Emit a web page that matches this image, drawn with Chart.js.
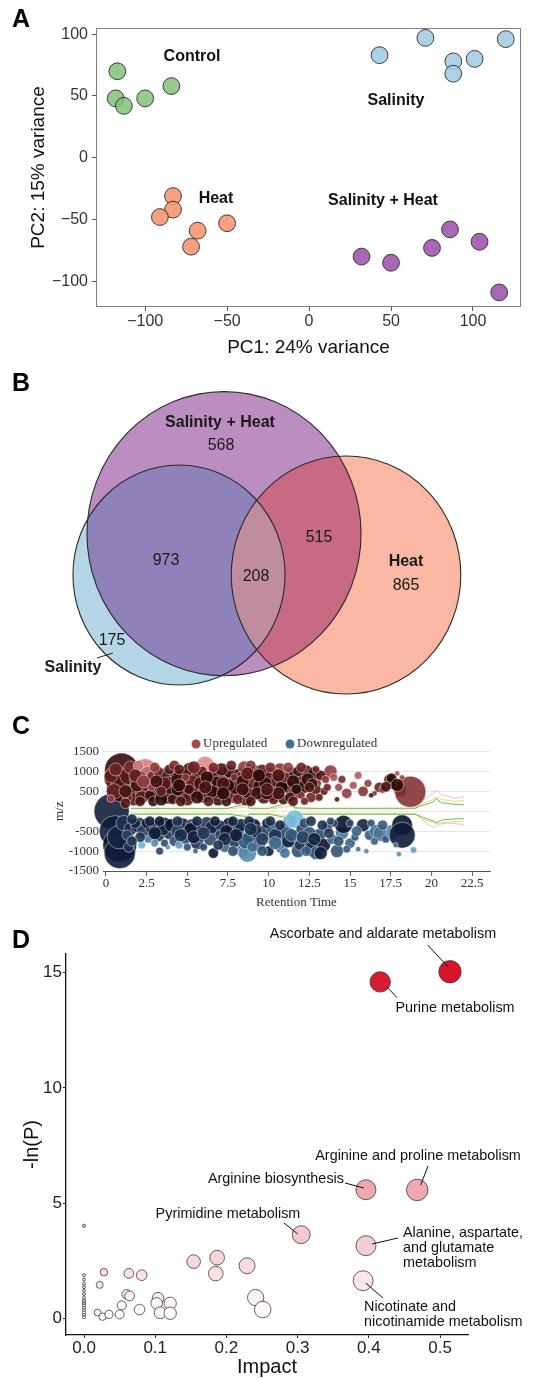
<!DOCTYPE html>
<html>
<head>
<meta charset="utf-8">
<script src="https://cdn.jsdelivr.net/npm/chart.js@4.4.1/dist/chart.umd.min.js"></script>
<style>
 html,body{margin:0;padding:0;background:#ffffff;}
 body{position:relative;width:542px;height:1379px;overflow:hidden;}
 canvas{position:absolute;left:0;}
 .letter{position:absolute;left:12px;font-family:'Liberation Sans',Arial,sans-serif;font-weight:bold;font-size:25px;color:#000;z-index:5;line-height:normal;}
</style>
</head>
<body>
<canvas id="chartA" width="542" height="370" style="top:0px"></canvas>
<canvas id="chartB" width="542" height="340" style="top:370px"></canvas>
<canvas id="chartC" width="542" height="200" style="top:710px"></canvas>
<canvas id="chartD" width="542" height="469" style="top:910px"></canvas>
<div class="letter" style="top:4px">A</div>
<div class="letter" style="top:368px">B</div>
<div class="letter" style="top:711px">C</div>
<div class="letter" style="top:925px">D</div>
<script>
// ---------------- DATA ----------------
// Panel A: PCA scores
const controlPC1 = [-117, -118, -113, -100, -84];
const controlPC2 = [70, 48, 42, 48, 58];
const salinityPC1 = [43, 71, 88, 88, 101, 120];
const salinityPC2 = [83, 97, 78, 68, 80, 96];
const heatPC1 = [-83, -83, -91, -68, -72, -50];
const heatPC2 = [-31, -42, -48, -59, -72, -53];
const salHeatPC1 = [32, 50, 75, 86, 104, 116];
const salHeatPC2 = [-80, -85, -73, -58, -68, -109];
const pcaTicks = [-100, -50, 0, 50, 100];

// Panel B: Venn region counts
const vennSetNames = ['Salinity', 'Salinity + Heat', 'Heat'];
const vennRegionNames = ['Salinity only', 'Salinity & Salinity+Heat', 'All three', 'Salinity+Heat & Heat', 'Salinity+Heat only', 'Heat only'];
const vennRegionCounts = [175, 973, 208, 515, 568, 865];

// Panel C: cloud plot [retention time, m/z, bubble size, shade]
const upRegulated = [
[0.96,1035,13,0.10],[1.0,620,12,0.00],[0.6,850,9,0.15],[0.9,780,8,0.25],[0.3,880,5,0.35],[0.5,500,6,0.40],[1.6,450,6,0.10],[1.7,300,5,0.30],[0.3,320,3,0.60],[1.4,900,7,0.30],
[2.4,990,10,0.90],[2.6,900,7,0.80],[2.0,800,7,0.55],[2.6,700,6,0.50],[2.9,850,5,0.45],[2.4,560,8,0.40],[2.2,350,5,0.30],[3.0,450,6,0.20],[3.3,620,5,0.10],[3.5,850,7,0.05],
[3.8,380,6,0.00],[3.2,1000,4,0.50],[4.0,650,7,0.15],[4.3,950,5,0.35],[4.7,760,9,0.10],[4.8,450,7,0.00],[5.2,1000,7,0.20],[5.0,300,5,0.30],[5.5,600,8,0.05],[5.7,850,6,0.25],
[6.1,1150,7,0.95],[6.0,400,6,0.10],[6.4,700,7,0.30],[6.7,950,5,0.20],[6.9,300,5,0.15],[7.0,550,7,0.00],[7.3,800,6,0.40],[7.6,1000,5,0.10],[7.8,400,6,0.30],[8.0,650,7,0.05],
[8.3,900,6,0.00],[8.5,1100,5,0.60],[8.6,300,5,0.25],[8.8,500,6,0.10],[9.0,800,7,0.35],[9.2,1000,5,0.50],[9.5,600,6,0.00],[9.7,350,5,0.20],[10.0,900,6,0.15],[10.2,500,7,0.05],
[10.5,750,5,0.30],[10.7,1050,5,0.55],[10.9,300,4,0.20],[11.1,650,6,0.10],[11.4,950,5,0.00],[11.6,450,5,0.40],[11.9,800,5,0.25],[12.1,600,5,0.05],[12.3,1000,5,0.30],[12.6,350,4,0.45],
[12.8,950,5,0.10],[13.0,700,3,0.50],[13.4,500,3,0.30],[13.8,1000,5,0.60],[14.0,850,3,0.70],[14.3,600,3,0.65],[14.5,800,3,0.50],[14.8,450,4,0.60],[15.2,650,3,0.70],[15.5,900,3,0.75],
[15.8,500,4,0.55],[16.1,700,3,0.60],[16.5,450,2,0.50],[16.8,600,4,0.40],[17.0,550,3,0.60],[17.4,800,4,0.30],[17.6,650,3,0.20],[17.9,950,2,0.70],[18.1,520,5,0.10],[18.7,490,12,0.55],
[18.2,850,2,0.60],[14.2,300,2,0.20],[16.3,400,2,0.20],[17.55,827,4,0.05],[17.9,660,5,0.05],[17.2,616,4,0.15],
[1.9,650,5,0.20],[2.7,400,4,0.10],[3.6,700,5,0.30],[4.1,300,4,0.20],[4.4,550,5,0.00],[5.3,750,5,0.40],[5.9,1000,4,0.30],[6.5,500,5,0.10],[7.1,1050,5,0.20],[7.5,650,5,0.05],
[8.1,300,4,0.35],[8.2,850,4,0.40],[9.3,450,5,0.15],[9.8,700,5,0.05],[10.3,300,4,0.30],[10.8,600,5,0.00],[11.3,350,4,0.15],[11.8,1000,4,0.20],[12.4,800,5,0.10],[12.9,550,4,0.30],
[13.2,900,4,0.20],[3.9,1050,4,0.25],[5.1,550,4,0.15],[6.8,750,4,0.05],[9.6,1050,4,0.35],[11.0,850,4,0.45],[2.8,600,3,0.60],[4.9,850,3,0.55],[7.9,850,3,0.50],[10.4,1000,3,0.60],
[12.0,400,3,0.50],[1.3,350,4,0.45],[0.6,1050,5,0.40],
[1.2,200,4,0.30],[2.1,250,4,0.20],[2.9,250,4,0.10],[3.4,300,5,0.05],[4.6,250,4,0.20],[5.6,350,5,0.10],[6.3,250,4,0.30],[7.4,250,4,0.15],[8.9,250,4,0.20],[9.9,450,5,0.10],
[10.6,450,5,0.20],[11.5,250,4,0.30],[12.2,250,3,0.40],[12.7,700,4,0.15],[13.1,350,3,0.30],[1.5,1100,5,0.50],[2.0,1150,4,0.85],[3.0,1100,4,0.60],[4.2,1150,4,0.50],[5.4,1100,5,0.45],
[6.6,1100,4,0.50],[7.7,1150,4,0.40],[8.9,1150,4,0.55],[10.1,1100,4,0.50],[11.2,1100,4,0.60],[12.0,1100,4,0.45],[12.9,1050,3,0.50],[1.8,900,5,0.35],[3.1,750,5,0.20],[4.5,650,5,0.10],
[5.8,700,5,0.15],[6.2,850,5,0.05],[7.2,700,5,0.20],[8.4,750,5,0.10],[8.7,950,5,0.30],[9.4,900,5,0.05],[10.6,900,5,0.20],[11.5,750,5,0.10],[12.5,600,4,0.20],[11.7,550,4,0.05],
[9.9,550,5,0.25],[8.4,550,5,0.15],[7.2,450,5,0.05],[6.1,600,5,0.20],[4.5,1050,4,0.30],[3.4,500,4,0.35],[2.3,750,5,0.60],[1.2,500,5,0.20],[13.5,800,3,0.55],[13.6,600,3,0.40]
];
const downRegulated = [
[0.35,0,13.5,0.08],[0.55,-500,12,0.05],[0.85,-850,13,0.00],[0.85,-1050,12,0.05],[0.8,-650,9,0.10],[1.1,-300,6,0.20],[1.5,-450,5,0.15],[1.3,-600,4,0.30],
[2.0,-350,6,0.10],[2.3,-500,5,0.30],[2.6,-700,3,0.60],[2.9,-400,6,0.05],[3.2,-600,5,0.20],[3.3,-1000,3,0.30],[3.0,-800,3,0.70],[3.6,-350,6,0.00],[3.9,-550,5,0.20],[4.2,-750,4,0.40],[4.5,-850,3,0.80],[4.7,-400,7,0.05],
[5.0,-600,5,0.10],[5.3,-350,5,0.30],[5.6,-800,5,0.20],[5.9,-500,5,0.00],[6.2,-300,5,0.25],[6.4,-700,5,0.35],[6.6,-1050,4,0.00],[6.8,-450,5,0.10],[7.1,-600,5,0.30],[7.3,-900,4,0.50],
[7.6,-350,6,0.00],[7.9,-750,5,0.20],[8.1,-500,5,0.40],[8.4,-1000,5,0.60],[8.7,-1050,7,0.70],[8.9,-650,6,0.10],[9.1,-350,5,0.00],[9.4,-850,5,0.30],[9.7,-550,6,0.20],[10.0,-1000,4,0.05],
[10.2,-400,5,0.45],[10.5,-700,7,0.50],[10.8,-900,5,0.60],[11.0,-500,6,0.35],[11.3,-250,5,0.70],[11.6,-200,7,0.95],[11.6,-700,7,0.55],[11.8,-1000,5,0.40],[12.0,-450,4,0.30],[12.4,-800,5,0.20],
[12.7,-950,6,0.00],[12.9,-1050,5,0.50],[13.1,-600,5,0.35],[13.4,-850,5,0.00],[13.6,-400,4,0.30],[13.9,-700,4,0.50],[14.2,-1000,5,0.40],[14.5,-550,5,0.60],[14.6,-330,7,0.00],[15.0,-800,4,0.50],
[15.3,-650,3,0.40],[15.5,-950,2,0.60],[15.8,-350,5,0.10],[16.2,-600,4,0.45],[16.6,-500,5,0.55],[16.9,-560,6,0.60],[17.2,-700,3,0.40],[17.5,-450,3,0.30],[17.6,-550,5,0.70],[18.2,-350,8,0.00],
[18.2,-600,10,0.05],[18.0,-1075,2,0.70],[18.9,-970,2.5,0.80],[17.8,-850,2,0.60],[16.0,-1000,2,0.70],[14.0,-300,3,0.30],[12.2,-300,4,0.35],
[1.8,-300,4,0.10],[2.2,-850,3,0.90],[3.5,-450,5,0.10],[4.0,-350,5,0.00],[4.4,-500,5,0.30],[5.2,-450,5,0.00],[5.8,-650,4,0.35],[6.5,-400,5,0.10],[7.0,-350,4,0.20],[7.4,-500,5,0.05],
[8.3,-350,5,0.10],[8.6,-750,6,0.45],[9.2,-500,5,0.15],[9.9,-300,4,0.05],[10.4,-600,5,0.20],[11.2,-750,5,0.10],[12.5,-550,5,0.40],[13.3,-350,4,0.20],[6.0,-900,3,0.30],[9.0,-900,4,0.55],
[11.9,-850,4,0.20],[2.5,-300,4,0.05],[4.9,-700,4,0.40],[10.7,-350,4,0.15],[3.8,-900,2,0.70],[5.5,-1000,2,0.50],
[1.6,-200,4,0.15],[2.7,-250,4,0.10],[3.3,-250,4,0.05],[4.4,-250,4,0.20],[5.6,-250,4,0.10],[6.7,-250,4,0.05],[7.8,-250,4,0.15],[8.8,-250,4,0.10],[10.1,-250,4,0.20],[12.6,-250,4,0.20],
[13.8,-250,3,0.30],[15.0,-300,3,0.35],[16.3,-300,3,0.40],[2.1,-650,4,0.20],[3.0,-550,5,0.05],[4.6,-600,5,0.15],[5.4,-650,5,0.05],[6.0,-550,5,0.25],[7.3,-700,5,0.10],[8.0,-600,5,0.05],
[8.9,-450,5,0.20],[9.6,-700,5,0.30],[10.4,-800,5,0.55],[11.4,-600,5,0.45],[12.1,-650,5,0.30],[12.8,-700,5,0.10],[13.7,-550,4,0.25],[14.3,-750,4,0.40],[15.4,-500,4,0.50],[16.5,-750,3,0.50],
[17.0,-350,4,0.45],[3.6,-800,3,0.35],[5.0,-900,3,0.40],[6.9,-850,4,0.20],[7.8,-1000,4,0.35],[9.6,-1000,4,0.40],[11.0,-1050,4,0.60],[12.3,-1000,4,0.50],[13.2,-1050,5,0.05],[14.8,-950,3,0.45],
[1.4,-900,4,0.20],[1.6,-750,4,0.25]
];
const rtTrace = [1.5, 3, 4.5, 6, 7.5, 8.7, 8.8, 10, 11.5, 11.6, 13, 14.5, 16, 17.5, 19, 19.4, 19.8, 20.1, 20.3, 20.6, 21, 21.4, 21.8, 22];
const upGreenTrace = [75, 72, 74, 72, 73, 190, 76, 73, 240, 85, 72, 74, 73, 75, 78, 140, 190, 230, 320, 215, 195, 175, 165, 160];
const upYellowTrace = [55, 52, 54, 52, 53, 110, 56, 53, 140, 60, 52, 54, 53, 55, 60, 190, 250, 290, 360, 300, 270, 250, 260, 275];
const upPinkTrace = [null,null,null,null,null,null,null,null,null,null,null,null,null,null, 60, 240, 370, 440, 540, 410, 380, 330, 345, 365];
const downGreenTrace = [-75, -72, -74, -72, -73, -140, -76, -73, -190, -82, -72, -74, -73, -75, -78, -140, -200, -240, -290, -225, -205, -195, -185, -195];
const downYellowTrace = [-55, -52, -54, -52, -53, -100, -56, -53, -130, -60, -52, -54, -53, -55, -60, -190, -240, -270, -320, -290, -270, -260, -255, -265];
const downPinkTrace = [null,null,null,null,null,null,null,null,null,null,null,null,null,null, -60, -190, -340, -410, -370, -320, -295, -310, -325, -335];
const rtTicks = [0, 2.5, 5, 7.5, 10, 12.5, 15, 17.5, 20, 22.5];
const mzTicks = [-1500, -1000, -500, 0, 500, 1000, 1500];

// Panel D: pathway analysis
const pathwayImpact = [0.514, 0.416, 0.468, 0.396, 0.305, 0.396, 0.392,
  0.187, 0.154, 0.229, 0.185, 0.241, 0.251,
  0.028, 0.022, 0.063, 0.081, 0.060, 0.064, 0.053, 0.078, 0.050, 0.019, 0.026, 0.035,
  0.104, 0.102, 0.107, 0.121, 0.121,
  0, 0, 0, 0, 0, 0, 0, 0, 0, 0, 0, 0, 0, 0, 0, 0, 0];
const pathwayNegLnP = [15.04, 14.60, 5.57, 5.58, 3.63, 3.15, 1.63,
  2.63, 2.46, 2.28, 1.94, 0.90, 0.38,
  2.00, 1.45, 1.95, 1.87, 1.04, 0.97, 0.56, 0.38, 0.17, 0.25, 0.07, 0.17,
  0.87, 0.65, 0.24, 0.65, 0.22,
  4.02, 1.87, 1.68, 1.50, 1.35, 1.20, 1.05, 0.90, 0.78, 0.70, 0.62, 0.55, 0.45, 0.35, 0.25, 0.15, 0.05];
const labeledPathways = ['Ascorbate and aldarate metabolism', 'Purine metabolism', 'Arginine and proline metabolism',
  'Arginine biosynthesis', 'Pyrimidine metabolism', 'Alanine, aspartate, and glutamate metabolism', 'Nicotinate and nicotinamide metabolism'];
const impactTicks = [0, 0.1, 0.2, 0.3, 0.4, 0.5];
const negLnPTicks = [0, 5, 10, 15];

// ---------------- STYLE / HELPERS ----------------
const SANS = "'Liberation Sans', Arial, sans-serif";
const SERIF = "'Liberation Serif', 'Times New Roman', serif";
Chart.defaults.font.family = SANS;
Chart.defaults.animation = false;
Chart.defaults.events = [];
Chart.defaults.plugins.legend.display = false;
Chart.defaults.plugins.tooltip.enabled = false;

const zip = (xs, ys) => xs.map((x, i) => ({x: x, y: ys[i]}));
const minus = v => String(v).replace('-', '\u2212');
function mix(a, b, t) { return a.map((v, i) => Math.round(v + (b[i] - v) * t)); }
function shade(stops, s, alpha) {
  const c = s < 0.5 ? mix(stops[0], stops[1], s * 2) : mix(stops[1], stops[2], (s - 0.5) * 2);
  return 'rgba(' + c[0] + ',' + c[1] + ',' + c[2] + ',' + alpha + ')';
}

// ---------------- PANEL A ----------------
const groupsA = [
  {name: 'Control', pc1: controlPC1, pc2: controlPC2, color: 'rgba(132,192,120,0.85)', lx: -71.4, ly: 81.5},
  {name: 'Salinity', pc1: salinityPC1, pc2: salinityPC2, color: 'rgba(164,204,226,0.9)', lx: 53.0, ly: 45.9},
  {name: 'Heat', pc1: heatPC1, pc2: heatPC2, color: 'rgba(249,150,114,0.9)', lx: -56.8, ly: -33.4},
  {name: 'Salinity + Heat', pc1: salHeatPC1, pc2: salHeatPC2, color: 'rgba(160,88,174,0.9)', lx: 45.1, ly: -35.0}
];
const frameA = {id: 'frameA', beforeDatasetsDraw(chart) {
  const {ctx, chartArea: a} = chart;
  ctx.save(); ctx.strokeStyle = '#7f7f7f'; ctx.lineWidth = 1;
  ctx.strokeRect(a.left + 0.5, a.top + 0.5, a.width - 1, a.height - 1);
  ctx.restore();
}};
const groupLabelsA = {id: 'groupLabelsA', afterDatasetsDraw(chart) {
  const {ctx} = chart; const xs = chart.scales.x, ys = chart.scales.y;
  ctx.save(); ctx.font = 'bold 16px ' + SANS; ctx.fillStyle = '#111';
  ctx.textAlign = 'center'; ctx.textBaseline = 'middle';
  groupsA.forEach(g => ctx.fillText(g.name, xs.getPixelForValue(g.lx), ys.getPixelForValue(g.ly)));
  ctx.restore();
}};
new Chart(document.getElementById('chartA'), {
  type: 'scatter',
  data: {datasets: groupsA.map(g => ({
    label: g.name, data: zip(g.pc1, g.pc2),
    backgroundColor: g.color, borderColor: '#2b2b2b', borderWidth: 0.9, pointRadius: 8.4
  }))},
  options: {
    responsive: false, devicePixelRatio: 1,
    layout: {padding: {left: 0, right: 21, top: 28, bottom: 0}},
    scales: {
      x: {type: 'linear', min: -130, max: 129.3,
        afterBuildTicks: s => { s.ticks = pcaTicks.map(v => ({value: v})); },
        afterFit: s => { s.height = 63; },
        grid: {display: true, drawOnChartArea: false, drawTicks: true, tickLength: 4, color: '#555'},
        border: {display: false},
        ticks: {autoSkip: false, maxRotation: 0, padding: 1, color: '#333', font: {size: 16}, callback: v => minus(v)},
        title: {display: true, text: 'PC1: 24% variance', color: '#111', font: {size: 19}, padding: {top: 0, bottom: 11}}},
      y: {type: 'linear', min: -120.8, max: 105,
        afterBuildTicks: s => { s.ticks = pcaTicks.map(v => ({value: v})); },
        afterFit: s => { s.width = 96; },
        grid: {display: true, drawOnChartArea: false, drawTicks: true, tickLength: 4, color: '#555'},
        border: {display: false},
        ticks: {autoSkip: false, padding: 4, color: '#333', font: {size: 16}, callback: v => minus(v)},
        title: {display: true, text: 'PC2: 15% variance', color: '#111', font: {size: 19}, padding: {top: 27, bottom: 0}}}
    }
  },
  plugins: [frameA, groupLabelsA]
});

// ---------------- PANEL B ----------------
const salinitySize = vennRegionCounts[0] + vennRegionCounts[1] + vennRegionCounts[2];
const salHeatSize = vennRegionCounts[4] + vennRegionCounts[1] + vennRegionCounts[2] + vennRegionCounts[3];
const heatSize = vennRegionCounts[5] + vennRegionCounts[3] + vennRegionCounts[2];
const vennSetSizes = [salinitySize, salHeatSize, heatSize];
const vennLayout = [{x: 62.15, y: 45.21}, {x: 77.78, y: 59.04}, {x: 120.14, y: 45.21}];
const vennColors = {salinity: '#b5d6e6', salHeat: '#bc8dc1', heat: '#fab7a3', salXsh: '#8f82ba', shXheat: '#c96a84', all: '#c08ca0'};
const vennCountPos = [{x: 38.89, y: 23.11}, {x: 57.64, y: 49.90}, {x: 88.89, y: 44.54}, {x: 110.76, y: 57.60}, {x: 76.74, y: 88.41}, {x: 140.97, y: 41.53}];
const vennNamePos = [{x: 25.35, y: 14.07}, {x: 76.39, y: 96.11}, {x: 140.97, y: 49.56}];
const vennPlugin = {id: 'venn', afterDatasetsDraw(chart) {
  const {ctx} = chart; const xs = chart.scales.x, ys = chart.scales.y;
  const E = vennLayout.map((c, i) => {
    const r = Math.sqrt(vennSetSizes[i]);
    const cx = xs.getPixelForValue(c.x), cy = ys.getPixelForValue(c.y);
    return {cx, cy, rx: Math.abs(xs.getPixelForValue(c.x + r) - cx), ry: Math.abs(ys.getPixelForValue(c.y + r) - cy)};
  });
  const path = e => { ctx.beginPath(); ctx.ellipse(e.cx, e.cy, e.rx, e.ry, 0, 0, Math.PI * 2); };
  const [sal, sh, heat] = E;
  ctx.save();
  path(sal); ctx.fillStyle = vennColors.salinity; ctx.fill();
  path(heat); ctx.fillStyle = vennColors.heat; ctx.fill();
  path(sh); ctx.fillStyle = vennColors.salHeat; ctx.fill();
  ctx.save(); path(sh); ctx.clip(); path(sal); ctx.clip(); path(sal); ctx.fillStyle = vennColors.salXsh; ctx.fill(); ctx.restore();
  ctx.save(); path(sh); ctx.clip(); path(heat); ctx.clip(); path(heat); ctx.fillStyle = vennColors.shXheat; ctx.fill(); ctx.restore();
  ctx.save(); path(sh); ctx.clip(); path(sal); ctx.clip(); path(heat); ctx.clip(); path(heat); ctx.fillStyle = vennColors.all; ctx.fill(); ctx.restore();
  ctx.strokeStyle = '#2a2a2a'; ctx.lineWidth = 1.1;
  [sh, sal, heat].forEach(e => { path(e); ctx.stroke(); });
  ctx.fillStyle = '#1a1a1a'; ctx.textAlign = 'center'; ctx.textBaseline = 'middle';
  ctx.font = '16px ' + SANS;
  vennRegionCounts.forEach((n, i) => ctx.fillText(String(n), xs.getPixelForValue(vennCountPos[i].x), ys.getPixelForValue(vennCountPos[i].y)));
  ctx.font = 'bold 16px ' + SANS;
  vennSetNames.forEach((n, i) => ctx.fillText(n, xs.getPixelForValue(vennNamePos[i].x), ys.getPixelForValue(vennNamePos[i].y)));
  ctx.beginPath(); ctx.moveTo(xs.getPixelForValue(33.68), ys.getPixelForValue(17.41));
  ctx.lineTo(xs.getPixelForValue(39.24), ys.getPixelForValue(19.09)); ctx.lineWidth = 1; ctx.stroke();
  ctx.restore();
}};
new Chart(document.getElementById('chartB'), {
  type: 'scatter',
  data: {datasets: [{label: 'centres', data: zip(vennLayout.map(c => c.x), vennLayout.map(c => c.y)), pointRadius: 0}]},
  options: {
    responsive: false, devicePixelRatio: 1,
    layout: {padding: 0},
    scales: {x: {type: 'linear', display: false, min: 0, max: 188.19}, y: {type: 'linear', display: false, min: 0, max: 113.86}}
  },
  plugins: [vennPlugin]
});

// ---------------- PANEL C ----------------
const upStops = [[40, 5, 5], [122, 40, 40], [236, 150, 150]];
const downStops = [[10, 20, 48], [58, 98, 132], [128, 198, 228]];
const bubbleScale = 1.3;
const toBubbles = arr => arr.map(p => ({x: p[0], y: p[1], r: p[2] * bubbleScale, s: p[3]}));
const legendC = {id: 'legendC', afterDraw(chart) {
  const {ctx} = chart;
  ctx.save(); ctx.font = '13px ' + SERIF; ctx.textBaseline = 'middle'; ctx.textAlign = 'left';
  [{t: 'Upregulated', c: '#a84a4a', x: 196}, {t: 'Downregulated', c: '#46708e', x: 290}].forEach(it => {
    ctx.beginPath(); ctx.arc(it.x, 34, 4.5, 0, Math.PI * 2); ctx.fillStyle = it.c; ctx.fill();
    ctx.fillStyle = '#333'; ctx.fillText(it.t, it.x + 7, 34);
  });
  ctx.restore();
}};
const traceDs = (vals, color, order) => ({type: 'line', data: zip(rtTrace, vals), borderColor: color, borderWidth: 1,
  pointRadius: 0, spanGaps: false, fill: false, order: order, tension: 0});
new Chart(document.getElementById('chartC'), {
  type: 'bubble',
  data: {datasets: [
    {label: 'Upregulated', data: toBubbles(upRegulated), order: 1, clip: false,
      backgroundColor: c => c.raw ? shade(upStops, c.raw.s, 0.9) : '#a84a4a',
      borderColor: 'rgba(255,255,255,0.45)', borderWidth: 1},
    {label: 'Downregulated', data: toBubbles(downRegulated), order: 1, clip: false,
      backgroundColor: c => c.raw ? shade(downStops, c.raw.s, 0.9) : '#46708e',
      borderColor: 'rgba(255,255,255,0.45)', borderWidth: 1},
    traceDs(upPinkTrace, 'rgba(240,175,175,0.8)', 4),
    traceDs(upYellowTrace, 'rgba(236,205,120,0.85)', 3),
    traceDs(upGreenTrace, 'rgba(96,188,66,0.95)', 2),
    traceDs(downPinkTrace, 'rgba(240,175,175,0.8)', 4),
    traceDs(downYellowTrace, 'rgba(236,205,120,0.85)', 3),
    traceDs(downGreenTrace, 'rgba(96,188,66,0.95)', 2)
  ]},
  options: {
    responsive: false, devicePixelRatio: 1,
    layout: {padding: {left: 0, right: 52, top: 41.5, bottom: 0}},
    scales: {
      x: {type: 'linear', min: -0.18, max: 23.6,
        afterBuildTicks: s => { s.ticks = rtTicks.map(v => ({value: v})); },
        afterFit: s => { s.height = 39; },
        grid: {display: true, drawOnChartArea: false, drawTicks: true, tickLength: 5, color: '#666'},
        border: {display: true, color: '#555', width: 1},
        ticks: {autoSkip: false, maxRotation: 0, padding: 0, color: '#333', font: {family: SERIF, size: 13}},
        title: {display: true, text: 'Retention Time', color: '#333', font: {family: SERIF, size: 13}, padding: {top: 0, bottom: 0}}},
      y: {type: 'linear', min: -1500, max: 1500,
        afterBuildTicks: s => { s.ticks = mzTicks.map(v => ({value: v})); },
        afterFit: s => { s.width = 103; },
        grid: {display: true, drawOnChartArea: true, drawTicks: false, color: '#e6e6e6'},
        border: {display: false},
        ticks: {autoSkip: false, padding: 4, color: '#333', font: {family: SERIF, size: 13}, callback: v => (v === 0 ? '' : String(v))},
        title: {display: true, text: 'm/z', color: '#333', font: {family: SERIF, size: 13}, padding: {top: 52, bottom: 0}}}
    }
  },
  plugins: [legendC]
});

// ---------------- PANEL D ----------------
function pColor(v) {
  const t = Math.max(0, Math.min(1, v / 15.04));
  const c = mix([255, 255, 255], [214, 20, 42], t);
  return 'rgb(' + c[0] + ',' + c[1] + ',' + c[2] + ')';
}
const pathwayLabels = [
  {i: 0, lines: [labeledPathways[0]], dx: -67, dy: -37.8, align: 'center', lh: 15, seg: [-22.3, -26.8, -2, -4.8]},
  {i: 1, lines: [labeledPathways[1]], dx: 74.8, dy: 26.1, align: 'center', lh: 15, seg: [6.5, 4.8, 16.8, 15.8]},
  {i: 2, lines: [labeledPathways[2]], dx: 0.8, dy: -34, align: 'center', lh: 15, seg: [10.8, -24, 3.5, -5]},
  {i: 3, lines: [labeledPathways[3]], dx: -90, dy: -10.7, align: 'center', lh: 15, seg: [-21, -6.7, -2, -1.7]},
  {i: 4, lines: [labeledPathways[4]], dx: -73.2, dy: -20.7, align: 'center', lh: 15, seg: [-17.5, -12, -3.5, -0.7]},
  {i: 5, lines: ['Alanine, aspartate,', 'and glutamate', 'metabolism'], dx: 37, dy: -12.7, align: 'left', lh: 14.8, seg: [32, -7.7, 6, -1.7]},
  {i: 6, lines: ['Nicotinate and', 'nicotinamide metabolism'], dx: 0.9, dy: 26.3, align: 'left', lh: 15, seg: [19.9, 17.3, 2.6, 2.3]}
];
const pathLabelPlugin = {id: 'pathLabels', afterDatasetsDraw(chart) {
  const {ctx} = chart; const xs = chart.scales.x, ys = chart.scales.y;
  ctx.save(); ctx.font = '14.4px ' + SANS; ctx.fillStyle = '#111'; ctx.strokeStyle = '#111'; ctx.lineWidth = 1; ctx.textBaseline = 'middle';
  pathwayLabels.forEach(L => {
    const px = xs.getPixelForValue(pathwayImpact[L.i]), py = ys.getPixelForValue(pathwayNegLnP[L.i]);
    ctx.beginPath(); ctx.moveTo(px + L.seg[0], py + L.seg[1]); ctx.lineTo(px + L.seg[2], py + L.seg[3]); ctx.stroke();
    ctx.textAlign = L.align;
    L.lines.forEach((t, k) => ctx.fillText(t, px + L.dx, py + L.dy + k * L.lh));
  });
  ctx.restore();
}};
new Chart(document.getElementById('chartD'), {
  type: 'scatter',
  data: {datasets: [{label: 'pathways', data: zip(pathwayImpact, pathwayNegLnP), clip: false,
    pointRadius: c => (c.raw ? 1.5 + 13.5 * Math.sqrt(c.raw.x) : 3),
    backgroundColor: c => (c.raw ? pColor(c.raw.y) : '#fff'),
    borderColor: '#3a3a3a', borderWidth: 0.8}]},
  options: {
    responsive: false, devicePixelRatio: 1,
    layout: {padding: {left: 0, right: 74, top: 44, bottom: 0}},
    scales: {
      x: {type: 'linear', min: -0.0253, max: 0.5393,
        afterBuildTicks: s => { s.ticks = impactTicks.map(v => ({value: v})); },
        afterFit: s => { s.height = 44; },
        grid: {display: true, drawOnChartArea: false, drawTicks: true, tickLength: 3, color: '#222'},
        border: {display: true, color: '#111', width: 1.3},
        ticks: {autoSkip: false, maxRotation: 0, padding: 0, color: '#222', font: {size: 17}, callback: v => Number(v).toFixed(1)},
        title: {display: true, text: 'Impact', color: '#111', font: {size: 20}, padding: {top: 0, bottom: 0}}},
      y: {type: 'linear', min: -0.725, max: 15.81,
        afterBuildTicks: s => { s.ticks = negLnPTicks.map(v => ({value: v})); },
        afterFit: s => { s.width = 66; },
        grid: {display: true, drawOnChartArea: false, drawTicks: true, tickLength: 3, color: '#222'},
        border: {display: true, color: '#111', width: 1.3},
        ticks: {autoSkip: false, padding: 1, color: '#222', font: {size: 17}},
        title: {display: true, text: '-ln(P)', color: '#111', font: {size: 20}, padding: {top: 20, bottom: 0}}}
    }
  },
  plugins: [pathLabelPlugin]
});
</script>
</body>
</html>
